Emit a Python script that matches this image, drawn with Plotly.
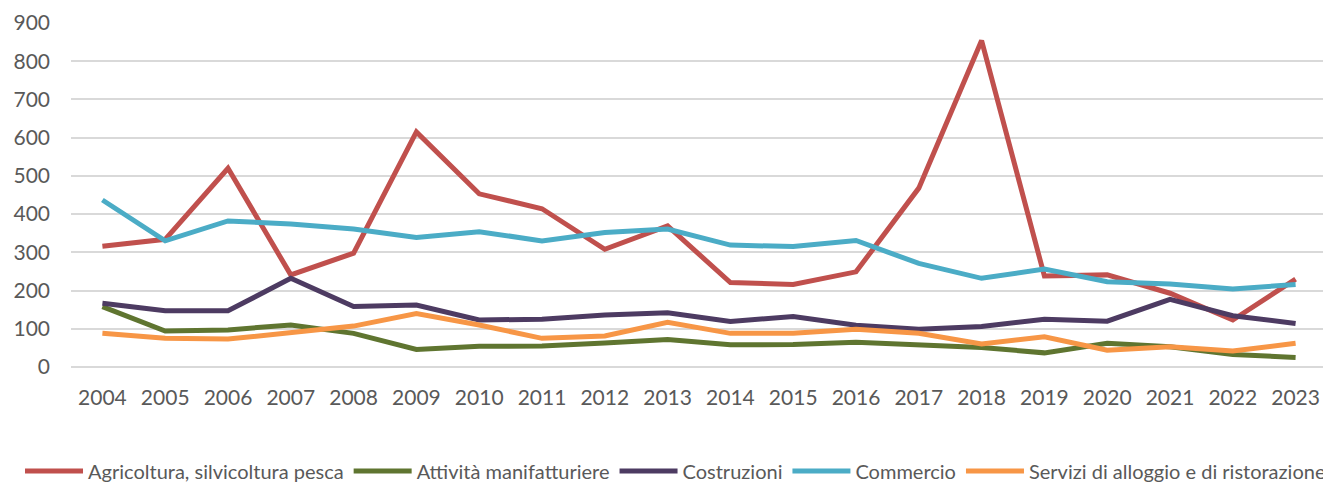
import plotly.graph_objects as go

years = [str(y) for y in range(2004, 2024)]
agricoltura = [316, 334, 520, 241, 298, 615, 453, 414, 308, 369, 221, 216, 249, 468, 854, 238, 241, 193, 123, 230]
manifatturiere = [158, 94, 97, 110, 88, 46, 54, 55, 63, 72, 58, 59, 65, 59, 51, 37, 62, 53, 33, 25]
costruzioni = [167, 147, 147, 232, 158, 162, 123, 125, 136, 142, 119, 132, 109, 99, 106, 125, 120, 177, 134, 114]
commercio = [437, 330, 382, 374, 361, 339, 354, 330, 352, 361, 319, 315, 331, 271, 232, 256, 223, 217, 204, 216]
servizi = [88, 75, 73, 90, 107, 140, 110, 75, 81, 117, 88, 88, 99, 88, 60, 79, 44, 53, 42, 62]

series = [
    ("Agricoltura, silvicoltura pesca", agricoltura, "#C0504D"),
    ("Attività manifatturiere", manifatturiere, "#5F7530"),
    ("Costruzioni", costruzioni, "#4D3B62"),
    ("Commercio", commercio, "#4BACC6"),
    ("Servizi di alloggio e di ristorazione", servizi, "#F79646"),
]

fig = go.Figure()
for name, vals, col in series:
    fig.add_trace(go.Scatter(x=years, y=vals, name=name, mode="lines",
                             line=dict(color=col, width=5)))

# page body adds an 8px margin, so the figure is sized/offset to compensate
fig.update_layout(
    width=1323, height=474,
    margin=dict(l=63, r=4, t=15, b=115, autoexpand=False),
    paper_bgcolor="white", plot_bgcolor="white",
    font=dict(family="Lato, sans-serif", size=21, color="#595959"),
    showlegend=True,
    legend=dict(orientation="h", x=-0.0406, xanchor="left",
                y=-0.302, yanchor="middle",
                font=dict(size=20, color="#595959"), traceorder="normal",
                itemwidth=58, tracegroupgap=0),
)
fig.update_xaxes(type="category", range=[-0.5, 19.5], showgrid=False, automargin=False,
                 showline=False, ticks="", ticklabelstandoff=16, tickfont=dict(size=21))
fig.update_yaxes(range=[0, 900], dtick=100, showgrid=True, gridcolor="#D9D9D9",
                 gridwidth=2, zeroline=True, zerolinecolor="#D9D9D9", zerolinewidth=2,
                 automargin=False,
                 showline=False, ticks="", ticklabelstandoff=20, tickfont=dict(size=21))

fig.write_html("out.html")
